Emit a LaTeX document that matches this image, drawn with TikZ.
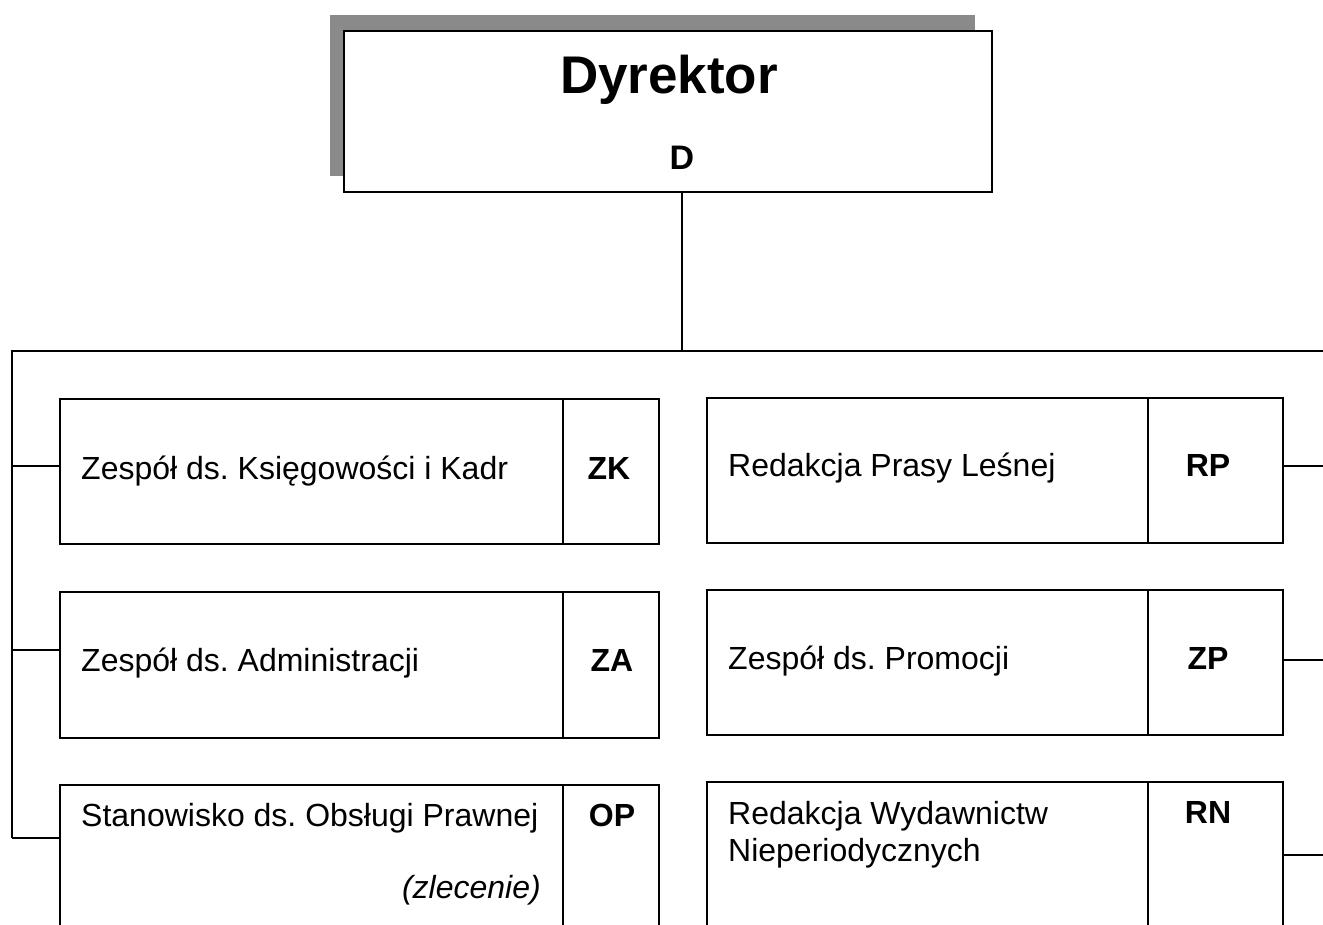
\documentclass[tikz,border=0pt]{standalone}
\usepackage{fontspec}
\setmainfont{Liberation Sans}
\definecolor{shadowgray}{HTML}{8A8A8A}
\frenchspacing
\begin{document}
\begin{tikzpicture}[x=1pt,y=-1pt,
  box/.style={draw, line width=1.6pt, rectangle, inner sep=0pt, outer sep=0pt, anchor=north west},
  txt/.style={inner sep=0pt, anchor=base west, font=\fontsize{32}{38}\selectfont},
  itxt/.style={inner sep=0pt, anchor=base east, font=\fontsize{32}{38}\selectfont\itshape},
  codetxt/.style={inner sep=0pt, anchor=base, font=\fontsize{32}{38}\selectfont\bfseries},
  wire/.style={line width=1.6pt}]
\useasboundingbox (0,0) rectangle (1323,924);
\clip (0,0) rectangle (1323,924);
\fill[white] (0,0) rectangle (1323,924);
% Director
\node[fill=shadowgray, inner sep=0pt, outer sep=0pt, minimum width=645pt, minimum height=161pt, anchor=north west] (shadow) at (330,15) {};
\node[box, fill=white, minimum width=648pt, minimum height=161pt] (dir) at (344,31) {};
\node[inner sep=0pt, anchor=base, font=\fontsize{53}{60}\selectfont\bfseries] (dirt) at (669,93) {Dyrektor};
\node[inner sep=0pt, anchor=base, font=\fontsize{34}{40}\selectfont\bfseries] (dirc) at (682,169) {D};
% Left column
\node[box, minimum width=503pt, minimum height=145pt] (zk) at (60,399) {};
\node[box, minimum width=96pt, minimum height=145pt] (zkc) at (563,399) {};
\node[txt] (zkt) at (81,479) {Zespół ds. Księgowości i Kadr};
\node[codetxt] (zkct) at (609,479) {ZK};
\node[box, minimum width=503pt, minimum height=146pt] (za) at (60,592) {};
\node[box, minimum width=96pt, minimum height=146pt] (zac) at (563,592) {};
\node[txt] (zat) at (81,671) {Zespół ds. Administracji};
\node[codetxt] (zact) at (612,671) {ZA};
\node[box, minimum width=503pt, minimum height=160pt] (op) at (60,785) {};
\node[box, minimum width=96pt, minimum height=160pt] (opc) at (563,785) {};
\node[txt] (opt) at (81,826) {Stanowisko ds. Obsługi Prawnej};
\node[itxt] (opt2) at (541,898) {(zlecenie)};
\node[codetxt] (opct) at (612,826) {OP};
% Right column
\node[box, minimum width=441pt, minimum height=145pt] (rp) at (707,398) {};
\node[box, minimum width=135pt, minimum height=145pt] (rpc) at (1148,398) {};
\node[txt] (rpt) at (728,476) {Redakcja Prasy Leśnej};
\node[codetxt] (rpct) at (1208,476) {RP};
\node[box, minimum width=441pt, minimum height=145pt] (zp) at (707,590) {};
\node[box, minimum width=135pt, minimum height=145pt] (zpc) at (1148,590) {};
\node[txt] (zpt) at (728,669) {Zespół ds. Promocji};
\node[codetxt] (zpct) at (1208,669) {ZP};
\node[box, minimum width=441pt, minimum height=160pt] (rn) at (707,782) {};
\node[box, minimum width=135pt, minimum height=160pt] (rnc) at (1148,782) {};
\node[txt] (rnt) at (728,824) {Redakcja Wydawnictw};
\node[txt] (rnt2) at (728,861) {Nieperiodycznych};
\node[codetxt] (rnct) at (1208,823) {RN};
% Connectors
\coordinate (drop) at (682,192);
\coordinate (busL) at (12,351);
\coordinate (busR) at (1340,351);
\coordinate (l1) at (12,466);
\coordinate (l2) at (12,650);
\coordinate (l3) at (12,838);
\coordinate (r1) at (1340,466);
\coordinate (r2) at (1340,660);
\coordinate (r3) at (1340,855);
\draw[wire] (drop) -- (drop |- busL);
\draw[wire] (busR) -- (busL) -- (l3);
\draw[wire] (l1) -- (l1 -| zk.west);
\draw[wire] (l2) -- (l2 -| za.west);
\draw[wire] (l3) -- (l3 -| op.west);
\draw[wire] (r1) -- (r1 -| rpc.east);
\draw[wire] (r2) -- (r2 -| zpc.east);
\draw[wire] (r3) -- (r3 -| rnc.east);
\end{tikzpicture}
\end{document}
